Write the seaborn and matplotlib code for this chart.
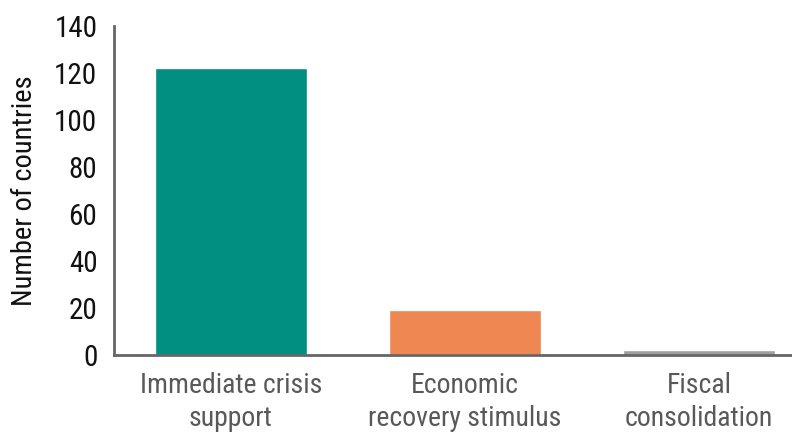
import matplotlib
matplotlib.use("Agg")
import matplotlib.pyplot as plt
import seaborn as sns
import pandas as pd

categories = ["Immediate crisis\nsupport", "Economic\nrecovery stimulus", "Fiscal\nconsolidation"]
values = [122, 19, 2]
colors = ["#008F80", "#EF8753", "#A0A0A0"]
yticks = [0, 20, 40, 60, 80, 100, 120, 140]

sns.set_theme(style="white")
plt.rcParams['font.family'] = ["Roboto Condensed", 'DejaVu Sans']

df = pd.DataFrame({"cat": categories, "val": values})

fig = plt.figure(figsize=(7.92, 4.36), dpi=100)
ax = fig.add_axes([114/792, (436-355)/436, 702/792, (355-26)/436])
sns.barplot(data=df, x="cat", y="val", hue="cat", palette=colors, legend=False,
            width=0.65, ax=ax, saturation=1)
ax.set_ylim(0, 140)
ax.set_xlim(-0.5, 2.5)
ax.set_yticks(yticks)
ax.set_yticklabels([str(t) for t in yticks], fontsize=21, color="#111111")
ax.set_xticks(range(len(categories)))
ax.set_xticklabels(categories, fontsize=20, color="#595959", linespacing=1.3)
ax.set_xlabel("")
ax.set_ylabel("Number of countries", fontsize=20.5, color="#111111", labelpad=12)
ax.tick_params(axis="y", length=0, pad=12)
ax.tick_params(axis="x", length=0, pad=12)
for s in ["top", "right"]:
    ax.spines[s].set_visible(False)
for s in ["left", "bottom"]:
    ax.spines[s].set_color("#666666")
    ax.spines[s].set_linewidth(2)
ax.grid(False)
fig.savefig("out.png", dpi=100)
